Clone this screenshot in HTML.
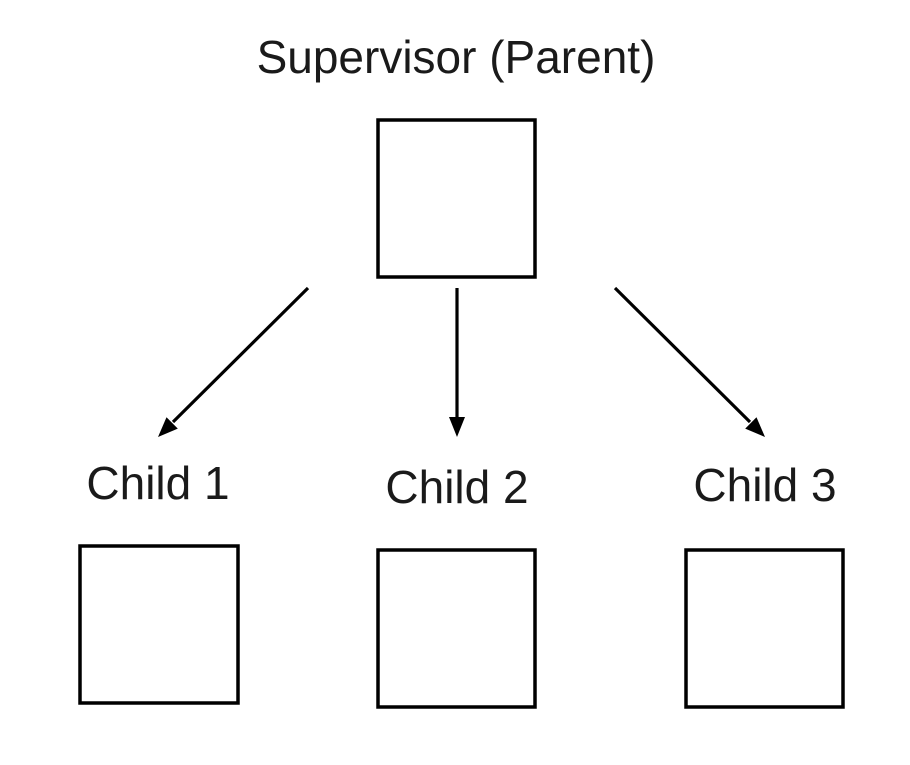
<!DOCTYPE html>
<html><head><style>
html,body{margin:0;padding:0;background:#fff;}
</style></head><body>
<svg width="910" height="760" viewBox="0 0 910 760" xmlns="http://www.w3.org/2000/svg">
<g font-family="Liberation Sans, sans-serif" font-size="46" fill="#1a1a1a" text-anchor="middle">
<text x="456" y="73">Supervisor (Parent)</text>
<text x="158" y="499">Child 1</text>
<text x="457" y="503">Child 2</text>
<text x="765" y="501">Child 3</text>
</g>
<g fill="none" stroke="#000" stroke-width="3.5">
<rect x="378" y="120" width="157" height="157"/>
<rect x="80" y="546" width="158" height="157"/>
<rect x="378" y="550" width="157" height="157"/>
<rect x="686" y="550" width="157" height="157"/>
</g>
<g stroke="#000" stroke-width="3.2">
<line x1="308" y1="288" x2="173" y2="422"/>
<line x1="457" y1="288" x2="457" y2="418"/>
<line x1="615" y1="288" x2="750" y2="422"/>
</g>
<g fill="#000">
<polygon points="158,437 177.8,428.6 166.5,417.2"/>
<polygon points="457,437 449,417 465,417"/>
<polygon points="765,437 756.5,417.2 745.2,428.6"/>
</g>
</svg>
</body></html>
